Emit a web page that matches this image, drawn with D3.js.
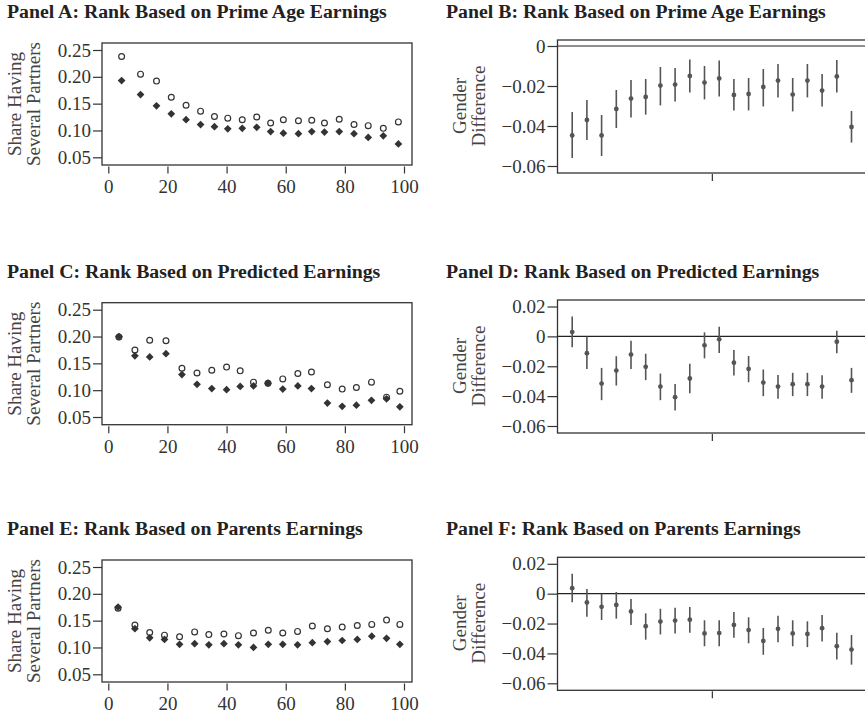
<!DOCTYPE html>
<html>
<head>
<meta charset="utf-8">
<script src="https://cdn.jsdelivr.net/npm/d3@7"></script>
<style>
  body { margin: 0; background: #fff; }
  svg { display: block; }
</style>
</head>
<body>
<svg id="mysvg" width="865" height="716"></svg>
<script>
// left column: share with several partners by rank (filled = one group, open = the other)
const xA = [4.5, 10.9, 16.3, 21.3, 26.3, 31.2, 35.9, 40.4, 45.3, 50.2, 54.9, 59.2, 64.3, 68.8, 73.1, 78.1, 83.1, 87.9, 93.0, 98.1];
const fillA = [0.193, 0.167, 0.146, 0.131, 0.120, 0.111, 0.107, 0.103, 0.104, 0.106, 0.098, 0.095, 0.094, 0.098, 0.097, 0.098, 0.094, 0.087, 0.090, 0.075];
const openA = [0.238, 0.205, 0.192, 0.162, 0.147, 0.136, 0.126, 0.123, 0.120, 0.125, 0.114, 0.120, 0.118, 0.119, 0.114, 0.121, 0.111, 0.109, 0.104, 0.116];

const xC = [3.6, 9.0, 14.0, 19.5, 24.9, 30.0, 35.0, 40.0, 44.6, 49.1, 54.0, 59.0, 64.1, 68.7, 74.1, 79.1, 83.9, 89.0, 94.1, 98.6];
const fillC = [0.200, 0.164, 0.162, 0.168, 0.129, 0.111, 0.103, 0.101, 0.107, 0.108, 0.113, 0.102, 0.108, 0.103, 0.076, 0.070, 0.072, 0.081, 0.084, 0.069];
const openC = [0.199, 0.175, 0.193, 0.192, 0.141, 0.132, 0.137, 0.143, 0.136, 0.115, 0.113, 0.121, 0.131, 0.134, 0.110, 0.102, 0.105, 0.115, 0.087, 0.098];

const xE = [3.3, 9.0, 14.0, 19.0, 24.1, 29.2, 34.0, 39.1, 44.0, 49.1, 54.1, 59.0, 64.0, 69.0, 74.1, 79.1, 84.2, 89.1, 94.1, 98.6];
const fillE = [0.175, 0.135, 0.118, 0.115, 0.106, 0.107, 0.105, 0.107, 0.105, 0.100, 0.106, 0.106, 0.105, 0.109, 0.111, 0.113, 0.115, 0.121, 0.117, 0.106];
const openE = [0.173, 0.142, 0.128, 0.123, 0.120, 0.129, 0.124, 0.125, 0.122, 0.127, 0.132, 0.127, 0.130, 0.140, 0.135, 0.138, 0.141, 0.143, 0.151, 0.143];

const yTicksLeft = [0.05, 0.10, 0.15, 0.20, 0.25];
const xTicksLeft = [0, 20, 40, 60, 80, 100];

// right column: gender difference with confidence bands, 20 bins
const bins = d3.range(1, 21);

const estB = [-0.0447, -0.037, -0.0447, -0.0315, -0.0263, -0.0255, -0.0198, -0.0193, -0.015, -0.0183, -0.0162, -0.0245, -0.024, -0.0205, -0.0173, -0.0243, -0.0173, -0.0223, -0.0152, -0.0405];
const hiB = [-0.033, -0.027, -0.0345, -0.022, -0.017, -0.0165, -0.0105, -0.011, -0.0067, -0.010, -0.0072, -0.0165, -0.016, -0.0115, -0.009, -0.016, -0.009, -0.014, -0.007, -0.0325];
const loB = [-0.056, -0.047, -0.055, -0.041, -0.0357, -0.0343, -0.0297, -0.0278, -0.0232, -0.0267, -0.0253, -0.0322, -0.0322, -0.0302, -0.0257, -0.0327, -0.0257, -0.0302, -0.0233, -0.0483];

const estD = [0.0029, -0.0113, -0.0316, -0.0229, -0.0122, -0.0204, -0.0336, -0.0407, -0.0282, -0.006, -0.002, -0.0176, -0.0218, -0.0309, -0.0336, -0.032, -0.032, -0.0336, -0.0036, -0.0293];
const hiD = [0.0133, 0.0, -0.0211, -0.0133, -0.0029, -0.0116, -0.0249, -0.0318, -0.0184, 0.0027, 0.0064, -0.0091, -0.0131, -0.0222, -0.0258, -0.0244, -0.0244, -0.026, 0.0038, -0.0211];
const loD = [-0.0073, -0.0218, -0.0427, -0.0329, -0.0218, -0.0293, -0.0427, -0.0496, -0.038, -0.0147, -0.0111, -0.0262, -0.0307, -0.040, -0.0418, -0.040, -0.040, -0.0418, -0.0113, -0.0378];

const estF = [0.0037, -0.0059, -0.0088, -0.0075, -0.0119, -0.0218, -0.0187, -0.018, -0.0174, -0.0266, -0.0264, -0.0209, -0.0244, -0.0316, -0.0235, -0.0266, -0.027, -0.0231, -0.0352, -0.0374];
const hiF = [0.0134, 0.0031, 0.0, 0.0011, -0.0035, -0.0132, -0.0101, -0.0095, -0.009, -0.0178, -0.0178, -0.0123, -0.0158, -0.0229, -0.0147, -0.0178, -0.0185, -0.0143, -0.0262, -0.0277];
const loF = [-0.0057, -0.0154, -0.0176, -0.0167, -0.0209, -0.0308, -0.0273, -0.0266, -0.0262, -0.0352, -0.0352, -0.0295, -0.0332, -0.0409, -0.0325, -0.0352, -0.0358, -0.0321, -0.044, -0.0475];

const yTicksB = [0, -0.02, -0.04, -0.06];
const yTicksDF = [0.02, 0, -0.02, -0.04, -0.06];

const svg = d3.select("#mysvg");
const serif = "'Liberation Serif', 'Times New Roman', serif";
const ink = "#333";

const fmtLeft = d3.format(".2f");
const fmtRight = v => v === 0 ? "0" : (v < 0 ? "\u2212" : "") + d3.format(".2f")(Math.abs(v));

function styleAxis(g) {
    g.select(".domain").remove();
    g.selectAll("line").attr("stroke", ink).attr("stroke-width", 1.2);
    g.selectAll("text").attr("font-family", serif).attr("font-size", "19px").attr("fill", ink);
}

function title(x, y, txt) {
    svg.append("text")
        .attr("x", x).attr("y", y)
        .attr("font-family", serif)
        .attr("font-weight", "bold")
        .attr("font-size", "19.8px")
        .attr("fill", "#222")
        .text(txt);
}

function yLabel(cx, cy, lines) {
    const t = svg.append("text")
        .attr("transform", `translate(${cx},${cy}) rotate(-90)`)
        .attr("text-anchor", "middle")
        .attr("font-family", serif)
        .attr("font-size", "19px")
        .attr("fill", "#444");
    lines.forEach((l, i) => {
        t.append("tspan").attr("x", 0).attr("dy", i === 0 ? 0 : "1.0em").text(l);
    });
}

function scatterPanel(top, xs, filled, open, txt) {
    const left = 102, right = 412, bottom = top + 122;
    const x = d3.scaleLinear().domain([0, 100]).range([108.3, 404]);
    const y = d3.scaleLinear().domain([0.05, 0.25]).range([top + 114.3, top + 7]);

    title(7, top - 25, txt);
    yLabel(21, top + 61, ["Share Having", "Several Partners"]);

    svg.append("rect")
        .attr("x", left).attr("y", top)
        .attr("width", right - left).attr("height", bottom - top)
        .attr("fill", "none").attr("stroke", ink).attr("stroke-width", 1.3);

    svg.append("g")
        .attr("transform", `translate(${left},0)`)
        .call(d3.axisLeft(y).tickValues(yTicksLeft).tickFormat(fmtLeft).tickSize(9).tickPadding(2))
        .call(styleAxis);

    svg.append("g")
        .attr("transform", `translate(0,${bottom + 1.5})`)
        .call(d3.axisBottom(x).tickValues(xTicksLeft).tickFormat(d3.format("d")).tickSize(7).tickPadding(6))
        .call(styleAxis);

    const pts = xs.map((v, i) => ({ x: v, f: filled[i], o: open[i] }));

    svg.append("g").selectAll("circle")
        .data(pts)
        .join("circle")
        .attr("cx", d => x(d.x))
        .attr("cy", d => y(d.o))
        .attr("r", 2.9)
        .attr("fill", "none")
        .attr("stroke", ink)
        .attr("stroke-width", 1.2);

    const diamond = d3.symbol().type(d3.symbolSquare).size(30);
    svg.append("g").selectAll("path")
        .data(pts)
        .join("path")
        .attr("d", diamond)
        .attr("transform", d => `translate(${x(d.x)},${y(d.f)}) rotate(45)`)
        .attr("fill", ink);
}

function diffPanel(top, domain, topPad, ticks, est, lo, hi, txt) {
    const left = 557.5, right = 868, bottom = top + 133;
    const x = d3.scaleLinear().domain([0, 21]).range([left, left + 21 * 14.7]);
    const y = d3.scaleLinear().domain(domain).range([top + 126, top + topPad]);

    title(446, top - 22, txt);
    yLabel(466, top + 66, ["Gender", "Difference"]);

    svg.append("rect")
        .attr("x", left).attr("y", top)
        .attr("width", right - left).attr("height", bottom - top)
        .attr("fill", "none").attr("stroke", ink).attr("stroke-width", 1.3);

    svg.append("line")
        .attr("x1", left).attr("x2", right)
        .attr("y1", y(0)).attr("y2", y(0))
        .attr("stroke", "#222").attr("stroke-width", 1.2);

    svg.append("g")
        .attr("transform", `translate(${left},0)`)
        .call(d3.axisLeft(y).tickValues(ticks).tickFormat(fmtRight).tickSize(10).tickPadding(2))
        .call(styleAxis);

    svg.append("g")
        .attr("transform", `translate(0,${bottom + 1})`)
        .call(d3.axisBottom(x).tickValues([10.5]).tickFormat("").tickSize(7))
        .call(styleAxis);

    const pts = bins.map((b, i) => ({ b: b, e: est[i], lo: lo[i], hi: hi[i] }));

    svg.append("g").selectAll("line")
        .data(pts)
        .join("line")
        .attr("x1", d => x(d.b)).attr("x2", d => x(d.b))
        .attr("y1", d => y(d.lo)).attr("y2", d => y(d.hi))
        .attr("stroke", "#555").attr("stroke-width", 1.6);

    svg.append("g").selectAll("circle")
        .data(pts)
        .join("circle")
        .attr("cx", d => x(d.b))
        .attr("cy", d => y(d.e))
        .attr("r", 2.4)
        .attr("fill", "#555");
}

scatterPanel(43, xA, fillA, openA, "Panel A: Rank Based on Prime Age Earnings");
scatterPanel(302.7, xC, fillC, openC, "Panel C: Rank Based on Predicted Earnings");
scatterPanel(560, xE, fillE, openE, "Panel E: Rank Based on Parents Earnings");

diffPanel(40, [-0.06, 0], 6, yTicksB, estB, loB, hiB, "Panel B: Rank Based on Prime Age Earnings");
diffPanel(300, [-0.06, 0.02], 6.5, yTicksDF, estD, loD, hiD, "Panel D: Rank Based on Predicted Earnings");
diffPanel(557.3, [-0.06, 0.02], 6.5, yTicksDF, estF, loF, hiF, "Panel F: Rank Based on Parents Earnings");
</script>
</body>
</html>
